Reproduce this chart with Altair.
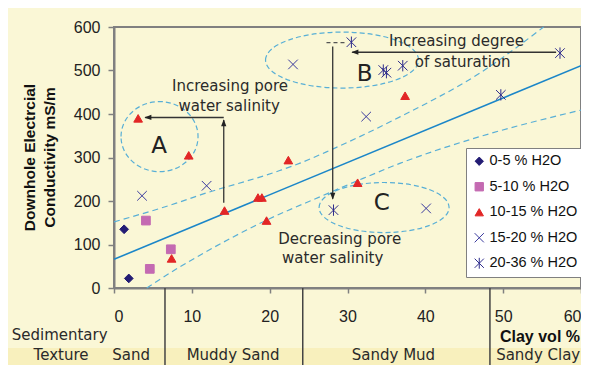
import altair as alt
import pandas as pd

# ---------------- data ----------------
groups = ["0-5 % H2O", "5-10 % H2O", "10-15 % H2O", "15-20 % H2O", "20-36 % H2O"]
clay_0_5 = [1.3, 1.9]
ec_0_5 = [135, 22]
clay_5_10 = [4.1, 4.6, 7.3]
ec_5_10 = [155, 44, 89]
clay_10_15 = [3.1, 9.6, 7.4, 14.2, 18.5, 19.0, 19.6, 22.4, 31.3, 37.4]
ec_10_15 = [390, 305, 68, 178, 208, 208, 155, 294, 242, 442]
clay_15_20 = [3.6, 11.9, 23.0, 32.4, 40.1]
ec_15_20 = [212, 235, 514, 394, 183]
clay_20_36 = [28.2, 30.5, 34.6, 35.0, 37.1, 49.7, 57.3]
ec_20_36 = [179, 565, 501, 495, 511, 444, 540]

trend_clay = [0, 60]
trend_ec = [66, 511]
upper_clay = [0, 8, 11.1, 21.3, 23.9, 27.8, 36.8, 47, 55.2]
upper_ec = [152, 195, 214, 270, 287, 317, 394, 494, 600]
lower_clay = [4.2, 8.5, 11.1, 19.6, 26.5, 32, 36.8, 47, 60]
lower_ec = [0, 49, 76, 156, 210, 252, 287, 348, 409]

x_ticks = [0, 10, 20, 30, 40, 50, 60]
y_ticks = [0, 100, 200, 300, 400, 500, 600]

texture_names = ["Sand", "Muddy Sand", "Sandy Mud", "Sandy Clay"]
texture_bounds = [6.55, 24.25, 48.3]

# ---------------- annotation placement ----------------
texture_label_x = [2.2, 15.3, 35.9, 54.5]
annot_text = ["Increasing pore", "water salinity", "Increasing degree",
              "of saturation", "Decreasing pore", "water salinity"]
annot_x = [14.9, 14.8, 44.0, 44.8, 29.0, 28.1]
annot_y = [465, 418, 568, 520, 113, 69]
letters = ["A", "B", "C"]
letter_x = [5.8, 32.2, 34.4]
letter_y = [327, 492, 195]
ell_x = [5.85, 29.3, 34.7]
ell_y = [348, 524, 185]
ell_w = [77, 153, 130]
ell_ratio = [0.91, 0.366, 0.385]
seg_x = [14.1, 14.1, 56.8, 28.1]
seg_x2 = [14.1, 4.0, 30.6, 28.1]
seg_y = [196, 392, 542, 555]
seg_y2 = [386, 392, 542, 205]
head_x = [14.1, 3.9, 30.5, 28.1]
head_y = [388, 392, 542, 203]
head_dir = ["up", "left", "left", "down"]

X_PATH = "M-1.1,-1.1L1.1,1.1M1.1,-1.1L-1.1,1.1"
AST_PATH = "M-1.1,-1.1L1.1,1.1M1.1,-1.1L-1.1,1.1M0,-1.3L0,1.3"
HEADS = {"up": "M0,0L-0.75,2L0.75,2Z", "down": "M0,0L-0.75,-2L0.75,-2Z",
         "left": "M0,0L2,-0.75L2,0.75Z"}


def ellipse_path(r):
    k = 0.5523
    return (f"M-1,0C-1,{-k*r:.4f} {-k},{-r} 0,{-r}C{k},{-r} 1,{-k*r:.4f} 1,0"
            f"C1,{k*r:.4f} {k},{r} 0,{r}C{-k},{r} -1,{k*r:.4f} -1,0Z")


rows = []
for g, xs, ys in zip(groups, [clay_0_5, clay_5_10, clay_10_15, clay_15_20, clay_20_36],
                     [ec_0_5, ec_5_10, ec_10_15, ec_15_20, ec_20_36]):
    for a, b in zip(xs, ys):
        rows.append({"clay": a, "ec": b, "group": g})
pts = pd.DataFrame(rows)

FONT = "Liberation Sans"
AFONT = "DejaVu Sans"
BLUE = "#1B86C8"
DASH = "#58AFD6"
TXT = "#2a2a2a"

xscale = alt.Scale(domain=[0, 60], nice=False, zero=False)
yscale = alt.Scale(domain=[0, 600], nice=False, zero=False)
X = lambda f: alt.X(f, scale=xscale)
Y = lambda f: alt.Y(f, scale=yscale)

legend = alt.Legend(orient="none", legendX=352, legendY=121, title=None,
                    fillColor="white", strokeColor="#808080", padding=6,
                    rowPadding=10.5, labelFontSize=14.5, labelFont=FONT,
                    labelColor="#111", symbolSize=70, labelOffset=3,
                    symbolStrokeWidth=1.8)

points = alt.Chart(pts).mark_point(size=76, opacity=1).encode(
    x=alt.X("clay:Q", scale=xscale,
            axis=alt.Axis(values=x_ticks, title=None, grid=False, tickSize=5,
                          labelPadding=15, labelFontSize=16, labelFont=FONT,
                          labelColor="#222", tickColor="#808080", tickWidth=1.5,
                          domainColor="#808080", domainWidth=2)),
    y=alt.Y("ec:Q", scale=yscale,
            axis=alt.Axis(values=y_ticks, grid=False, tickSize=6, labelPadding=8,
                          labelFontSize=16, labelFont=FONT, labelColor="#222",
                          tickColor="#808080", tickWidth=1.5,
                          domainColor="#808080", domainWidth=2,
                          title=["Downhole Electrcial", "Conductivity mS/m"],
                          titleFont=FONT, titleFontSize=15.5, titleFontWeight="bold",
                          titleColor="#111", titleAngle=-90, titleAlign="center",
                          titleBaseline="alphabetic", titleLineHeight=20,
                          titleX=-80, titleY=130)),
    fill=alt.Fill("group:N", sort=groups, legend=legend,
                  scale=alt.Scale(domain=groups, range=["#231C74", "#C46AB2", "#E22626",
                                                        "transparent", "transparent"])),
    stroke=alt.Stroke("group:N", sort=groups, legend=legend,
                      scale=alt.Scale(domain=groups, range=["#231C74", "#C46AB2", "#E22626",
                                                            "#3A3A9E", "#2E2C8C"])),
    shape=alt.Shape("group:N", sort=groups, legend=legend,
                    scale=alt.Scale(domain=groups, range=["diamond", "square", "triangle-up",
                                                          X_PATH, AST_PATH])),
    strokeWidth=alt.StrokeWidth("group:N", legend=None,
                                scale=alt.Scale(domain=groups, range=[1, 1, 1, 2, 2])),
)

one = pd.DataFrame({"a": [0]})
strip = alt.Chart(one).mark_rect(color="#F8F0BD").encode(
    x=alt.value(-110), x2=alt.value(480), y=alt.value(321), y2=alt.value(345))

ellipses = [
    alt.Chart(pd.DataFrame({"clay": [cx], "ec": [cy]})).mark_point(
        filled=False, stroke=DASH, strokeWidth=1.2, strokeDash=[5, 3], opacity=1,
        shape=ellipse_path(r), size=w * w).encode(x=X("clay:Q"), y=Y("ec:Q"))
    for cx, cy, w, r in zip(ell_x, ell_y, ell_w, ell_ratio)
]

band_df = pd.DataFrame({"clay": upper_clay + lower_clay, "ec": upper_ec + lower_ec,
                        "band": ["upper"] * len(upper_clay) + ["lower"] * len(lower_clay)})
bands = alt.Chart(band_df).mark_line(color=DASH, strokeWidth=1.2, strokeDash=[6, 4],
                                     interpolate="monotone").encode(
    x=X("clay:Q"), y=Y("ec:Q"), detail="band:N")

trend = alt.Chart(pd.DataFrame({"clay": trend_clay, "ec": trend_ec})).mark_line(
    color=BLUE, strokeWidth=1.6).encode(x=X("clay:Q"), y=Y("ec:Q"))

seg_df = pd.DataFrame({"x": seg_x, "x2": seg_x2, "y": seg_y, "y2": seg_y2})
segs = alt.Chart(seg_df).mark_rule(color="#333", strokeWidth=1.3).encode(
    x=X("x:Q"), x2="x2:Q", y=Y("y:Q"), y2="y2:Q")

dash_df = pd.DataFrame({"x": [27.3], "x2": [29.9], "y": [564]})
dashseg = alt.Chart(dash_df).mark_rule(color="#555", strokeWidth=1.2,
                                       strokeDash=[4, 3]).encode(
    x=X("x:Q"), x2="x2:Q", y=Y("y:Q"))

heads = [
    alt.Chart(pd.DataFrame({"x": [hx], "y": [hy]})).mark_point(
        filled=True, color="#222", size=49, opacity=1, shape=HEADS[d]).encode(
        x=X("x:Q"), y=Y("y:Q"))
    for hx, hy, d in zip(head_x, head_y, head_dir)
]

ann_df = pd.DataFrame({"x": annot_x, "y": annot_y, "t": annot_text})
ann = alt.Chart(ann_df).mark_text(font=AFONT, fontSize=15, color=TXT,
                                  align="center", baseline="middle").encode(
    x=X("x:Q"), y=Y("y:Q"), text="t:N")

let_df = pd.DataFrame({"x": letter_x, "y": letter_y, "t": letters})
lets = alt.Chart(let_df).mark_text(font=AFONT, fontSize=23, color="#222",
                                   align="center", baseline="middle").encode(
    x=X("x:Q"), y=Y("y:Q"), text="t:N")

div_df = pd.DataFrame({"x": texture_bounds, "y": [0] * 3, "y2": [-200] * 3})
dividers = alt.Chart(div_df).mark_rule(color="#444", strokeWidth=1.5).encode(
    x=X("x:Q"), y=Y("y:Q"), y2="y2:Q")

tex_df = pd.DataFrame({"x": texture_label_x, "t": texture_names})
tex = alt.Chart(tex_df).mark_text(font=AFONT, fontSize=15, color=TXT,
                                  align="center", baseline="middle").encode(
    x=X("x:Q"), y=alt.value(328), text="t:N")

sed = alt.Chart(pd.DataFrame({"t": ["Sedimentary"]})).mark_text(
    font=AFONT, fontSize=15, color=TXT, align="left", baseline="middle").encode(
    x=alt.value(-102.3), y=alt.value(308), text="t:N")
texw = alt.Chart(pd.DataFrame({"t": ["Texture"]})).mark_text(
    font=AFONT, fontSize=15, color=TXT, align="center", baseline="middle").encode(
    x=alt.value(-53), y=alt.value(328), text="t:N")

claytitle = alt.Chart(pd.DataFrame({"t": ["Clay vol %"]})).mark_text(
    font=FONT, fontSize=16, fontWeight="bold", color="#111", align="right",
    baseline="middle").encode(x=alt.value(466), y=alt.value(310), text="t:N")

chart = alt.layer(
    strip, *ellipses, bands, trend, segs, dashseg, *heads, ann, lets, points,
    dividers, tex, sed, texw, claytitle
).properties(
    width=467, height=261,
    autosize=alt.AutoSizeParams(type="none"),
    padding={"left": 106, "top": 19, "right": 0, "bottom": 77},
    background="#FAF7D6",
).configure_view(stroke="#808080", strokeWidth=2)

chart.save("out.html", embed_options={"renderer": "svg", "actions": False})
